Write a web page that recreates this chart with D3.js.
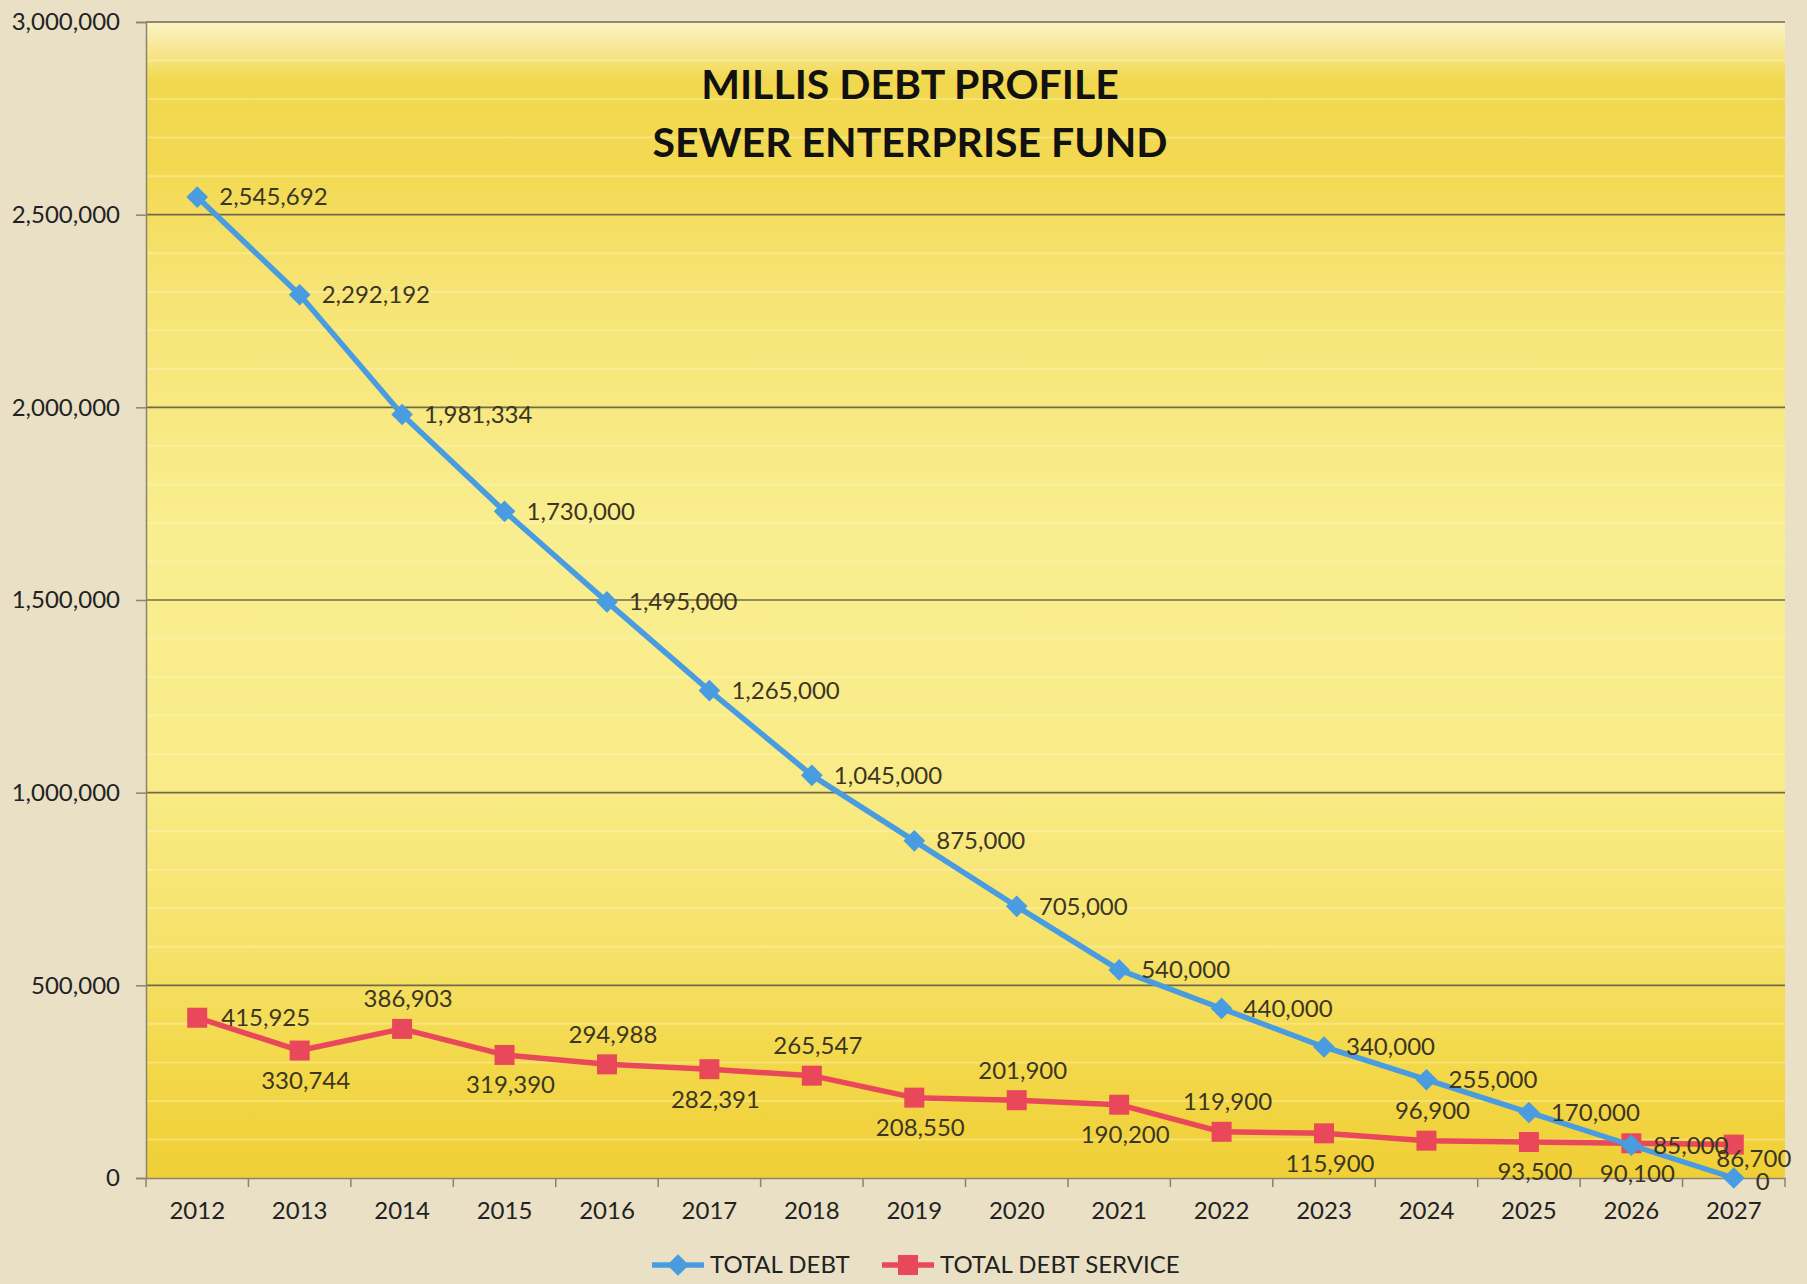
<!DOCTYPE html>
<html>
<head>
<meta charset="utf-8">
<script src="https://cdn.jsdelivr.net/npm/d3@7"></script>
<style>
  body { margin: 0; background: #e9e0c5; }
  svg { display: block; }
  text { font-family: Lato, 'Open Sans', sans-serif; }
</style>
</head>
<body>
<script>
const years = ['2012', '2013', '2014', '2015', '2016', '2017', '2018', '2019',
  '2020', '2021', '2022', '2023', '2024', '2025', '2026', '2027'];
const totalDebt = [2545692, 2292192, 1981334, 1730000, 1495000, 1265000, 1045000, 875000,
  705000, 540000, 440000, 340000, 255000, 170000, 85000, 0];
const totalDebtService = [415925, 330744, 386903, 319390, 294988, 282391, 265547, 208550,
  201900, 190200, 119900, 115900, 96900, 93500, 90100, 86700];
const yTicks = [0, 500000, 1000000, 1500000, 2000000, 2500000, 3000000];
const titleLines = ['MILLIS DEBT PROFILE', 'SEWER ENTERPRISE FUND'];
// where excel put the red labels
const serviceLabelSide = ['right', 'below', 'above', 'below', 'above', 'below', 'above', 'below',
  'above', 'below', 'above', 'below', 'above', 'below', 'below', 'near'];

const W = 1807, H = 1284;
const margin = {top: 22, right: 22, bottom: 106, left: 146};
const width = W - margin.left - margin.right,
  height = H - margin.top - margin.bottom;

const blue = '#4a9ce0', red = '#e8485a';
const fmt = d3.format(',');
const fs = 24;

const svg = d3.select('body').append('svg')
  .attr('width', W)
  .attr('height', H);

const defs = svg.append('defs');
const grad = defs.append('linearGradient')
  .attr('id', 'plotbg')
  .attr('x1', 0).attr('y1', 0).attr('x2', 0).attr('y2', 1);
[[0, '#fbf4c6'], [0.025, '#f7e690'], [0.05, '#f2d84e'], [0.13, '#f3d952'], [0.22, '#f6e372'],
  [0.45, '#f9ee90'], [0.65, '#f9ec88'], [0.8, '#f6e26a'], [0.9, '#f3d84a'], [1, '#f0cf36']]
  .forEach(function(s) {
    grad.append('stop').attr('offset', s[0]).attr('stop-color', s[1]);
  });

const g = svg.append('g')
  .attr('transform', 'translate(' + margin.left + ',' + margin.top + ')');

const x = d3.scaleBand()
  .domain(years)
  .range([0, width]);

const y = d3.scaleLinear()
  .domain([0, 3000000])
  .range([height, 0]);

g.append('rect')
  .attr('width', width)
  .attr('height', height)
  .attr('fill', 'url(#plotbg)');

// faint minor stripes every 100k
g.append('g')
  .selectAll('line')
  .data(d3.range(100000, 3000000, 100000).filter(function(v) { return v % 500000 !== 0; }))
  .join('line')
  .attr('x1', 0).attr('x2', width)
  .attr('y1', function(d) { return y(d); })
  .attr('y2', function(d) { return y(d); })
  .attr('stroke', '#fff8c8')
  .attr('stroke-opacity', 0.35)
  .attr('stroke-width', 2);

// gridlines
g.append('g')
  .selectAll('line')
  .data(yTicks.slice(1))
  .join('line')
  .attr('x1', 0).attr('x2', width)
  .attr('y1', function(d) { return y(d); })
  .attr('y2', function(d) { return y(d); })
  .attr('stroke', '#72694a')
  .attr('stroke-width', 1.6);

const yAxis = d3.axisLeft(y)
  .tickValues(yTicks)
  .tickFormat(fmt)
  .tickSize(10)
  .tickPadding(16);

const yg = g.append('g').call(yAxis);
yg.select('.domain').attr('stroke', '#8a8370').attr('stroke-width', 1.5);
yg.selectAll('.tick line').attr('stroke', '#8a8370').attr('stroke-width', 1.5);
yg.selectAll('.tick text')
  .attr('font-size', fs)
  .attr('fill', '#222');

const xAxis = d3.axisBottom(x)
  .tickSize(0)
  .tickPadding(24);

const xg = g.append('g')
  .attr('transform', 'translate(0,' + height + ')')
  .call(xAxis);
xg.select('.domain').attr('stroke', '#8a8370').attr('stroke-width', 1.5);
xg.selectAll('.tick text')
  .attr('font-size', fs)
  .attr('fill', '#222');

// tick marks on band edges
xg.append('g')
  .selectAll('line')
  .data(years.concat(['end']))
  .join('line')
  .attr('x1', function(d, i) { return i * x.step(); })
  .attr('x2', function(d, i) { return i * x.step(); })
  .attr('y1', 0).attr('y2', 9)
  .attr('stroke', '#8a8370')
  .attr('stroke-width', 1.5);

const cx = function(d, i) { return x(years[i]) + x.bandwidth() / 2; };

const line = d3.line()
  .x(function(d, i) { return x(years[i]) + x.bandwidth() / 2; })
  .y(function(d) { return y(d); });

function drawSeries(values, color, shape, cls) {
  const s = g.append('g').attr('class', cls);
  s.append('path')
    .datum(values)
    .attr('d', line)
    .attr('fill', 'none')
    .attr('stroke', color)
    .attr('stroke-width', 5.5)
    .attr('stroke-linejoin', 'round');
  s.selectAll('path.mark')
    .data(values)
    .join('path')
    .attr('class', 'mark')
    .attr('d', d3.symbol().type(shape).size(shape === d3.symbolSquare ? 400 : 300))
    .attr('transform', function(d, i) {
      return 'translate(' + cx(d, i) + ',' + y(d) + ')';
    })
    .attr('fill', color);
}

drawSeries(totalDebtService, red, d3.symbolSquare, 'service');
drawSeries(totalDebt, blue, d3.symbolDiamond2, 'debt');

const labelColor = '#3b3622';

g.append('g')
  .selectAll('text')
  .data(totalDebt)
  .join('text')
  .attr('x', function(d, i) { return cx(d, i) + 22; })
  .attr('y', function(d) { return y(d) + (d === 0 ? 4 : 0); })
  .attr('dy', '0.35em')
  .attr('font-size', fs)
  .attr('fill', labelColor)
  .text(function(d) { return fmt(d); });

const sideOffset = {above: -30, below: 30, near: 14, right: 0};

g.append('g')
  .selectAll('text')
  .data(totalDebtService)
  .join('text')
  .attr('x', function(d, i) {
    const side = serviceLabelSide[i];
    return side === 'right' ? cx(d, i) + 24 : cx(d, i) + (side === 'near' ? 20 : 6);
  })
  .attr('y', function(d, i) { return y(d) + sideOffset[serviceLabelSide[i]]; })
  .attr('dy', '0.35em')
  .attr('text-anchor', function(d, i) { return serviceLabelSide[i] === 'right' ? 'start' : 'middle'; })
  .attr('font-size', fs)
  .attr('fill', labelColor)
  .text(function(d) { return fmt(d); });

// title
svg.append('text')
  .attr('text-anchor', 'middle')
  .attr('font-size', 41)
  .attr('font-weight', 'bold')
  .attr('fill', '#111')
  .selectAll('tspan')
  .data(titleLines)
  .join('tspan')
  .attr('x', 910)
  .attr('y', function(d, i) { return 99 + i * 58; })
  .text(function(d) { return d; });

// legend
const legend = svg.append('g').attr('transform', 'translate(0,1265)');
const legendItems = [
  {name: 'TOTAL DEBT', color: blue, shape: d3.symbolDiamond2, x0: 652},
  {name: 'TOTAL DEBT SERVICE', color: red, shape: d3.symbolSquare, x0: 882}
];
legendItems.forEach(function(it) {
  legend.append('line')
    .attr('x1', it.x0).attr('x2', it.x0 + 52)
    .attr('stroke', it.color)
    .attr('stroke-width', 5.5);
  legend.append('path')
    .attr('d', d3.symbol().type(it.shape).size(it.shape === d3.symbolSquare ? 400 : 300))
    .attr('transform', 'translate(' + (it.x0 + 26) + ',0)')
    .attr('fill', it.color);
  legend.append('text')
    .attr('x', it.x0 + 58)
    .attr('dy', '0.35em')
    .attr('font-size', fs)
    .attr('fill', '#222')
    .text(it.name);
});
</script>
</body>
</html>
